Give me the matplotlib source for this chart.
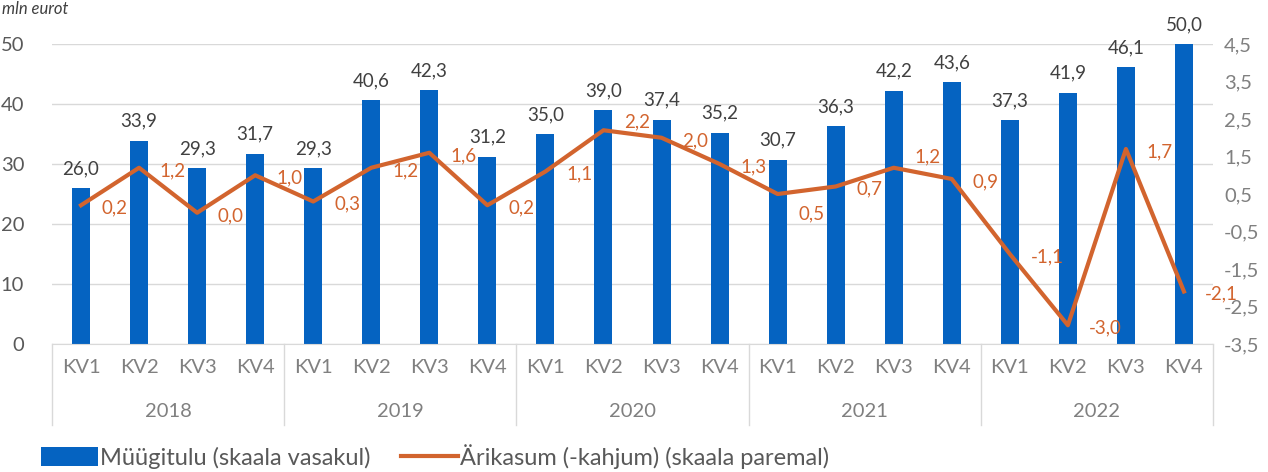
import numpy as np
import matplotlib.pyplot as plt
from matplotlib.transforms import blended_transform_factory

plt.rcParams['font.family'] = ['Lato', 'DejaVu Sans']

years = ['2018', '2019', '2020', '2021', '2022']
quarters = ['KV1', 'KV2', 'KV3', 'KV4']
sales = [26.0, 33.9, 29.3, 31.7, 29.3, 40.6, 42.3, 31.2, 35.0, 39.0,
         37.4, 35.2, 30.7, 36.3, 42.2, 43.6, 37.3, 41.9, 46.1, 50.0]
profit = [0.2, 1.2, 0.0, 1.0, 0.3, 1.2, 1.6, 0.2, 1.1, 2.2,
          2.0, 1.3, 0.5, 0.7, 1.2, 0.9, -1.1, -3.0, 1.7, -2.1]

blue = '#0563c1'
orange = '#d2642e'
grey = '#808080'

x = np.arange(len(sales))

fig = plt.figure(figsize=(12.68, 4.72), dpi=100)
ax = fig.add_axes([52/1268, 1-344/472, (1213-52)/1268, 300/472])
ax2 = ax.twinx()

bars = ax.bar(x, sales, width=0.31, color=blue, label='Müügitulu (skaala vasakul)', zorder=2)
ax.set_ylim(0, 50)
ax.set_xlim(-0.5, len(sales) - 0.5)
ax.set_yticks(np.arange(0, 51, 10))
ax.yaxis.grid(True, color='#d9d9d9', lw=1, zorder=0)
ax.set_axisbelow(True)
for s in ['top', 'right', 'left']:
    ax.spines[s].set_visible(False)
ax.spines['bottom'].set_color('#d9d9d9')
ax.tick_params(axis='y', length=0, labelsize=14.5, labelcolor='#595959', pad=20)
for xi, v in zip(x, sales):
    ax.annotate(f'{v:.1f}'.replace('.', ','), (xi, v), xytext=(0, 8), textcoords='offset points',
                ha='center', va='bottom', fontsize=13.5, color='#404040')

# x axis: quarters + years
ax.set_xticks(x)
ax.set_xticklabels(quarters * len(years))
ax.tick_params(axis='x', length=0, labelsize=14.5, labelcolor=grey, pad=11)
tr = blended_transform_factory(ax.transData, ax.transAxes)
for i, yr in enumerate(years):
    ax.text(i * 4 + 1.5, -0.225, yr, transform=tr, ha='center', va='center',
            fontsize=14.5, color=grey)
for b in np.arange(-0.5, len(sales), 4):
    ax.plot([b, b], [0, -0.27], transform=tr, color='#d9d9d9', lw=1, clip_on=False)

line, = ax2.plot(x, profit, color=orange, lw=3, label='Ärikasum (-kahjum) (skaala paremal)', zorder=3)
ax2.set_ylim(-3.5, 4.5)
ax2.set_yticks(np.arange(-3.5, 4.6, 1))
ax2.set_yticklabels([f'{v:.1f}'.replace('.', ',') for v in np.arange(-3.5, 4.6, 1)])
ax2.tick_params(axis='y', length=0, labelsize=14.5, labelcolor=grey, pad=8)
for s in ['top', 'right', 'left', 'bottom']:
    ax2.spines[s].set_visible(False)
for i, (xi, v) in enumerate(zip(x, profit)):
    dy = 0
    if i == 9:
        dy = 8
    elif i == 12:
        dy = -12
    elif i == 14:
        dy = 10
    ax2.annotate(f'{v:.1f}'.replace('.', ','), (xi, v), xytext=(15, dy - 2), textcoords='offset points',
                 ha='left', va='center', fontsize=13.5, color=orange)

fig.legend(handles=[bars, line], loc='lower left', bbox_to_anchor=(20/1268, -0.038), ncol=2,
           frameon=False, fontsize=17, handlelength=2.4, handleheight=0.9, handletextpad=0.1,
           columnspacing=1.3, labelcolor='#595959')

fig.text(2/1268, 0.998, 'mln eurot', ha='left', va='top', fontsize=12, style='italic', color='#404040')

fig.savefig('out.png', dpi=100)
